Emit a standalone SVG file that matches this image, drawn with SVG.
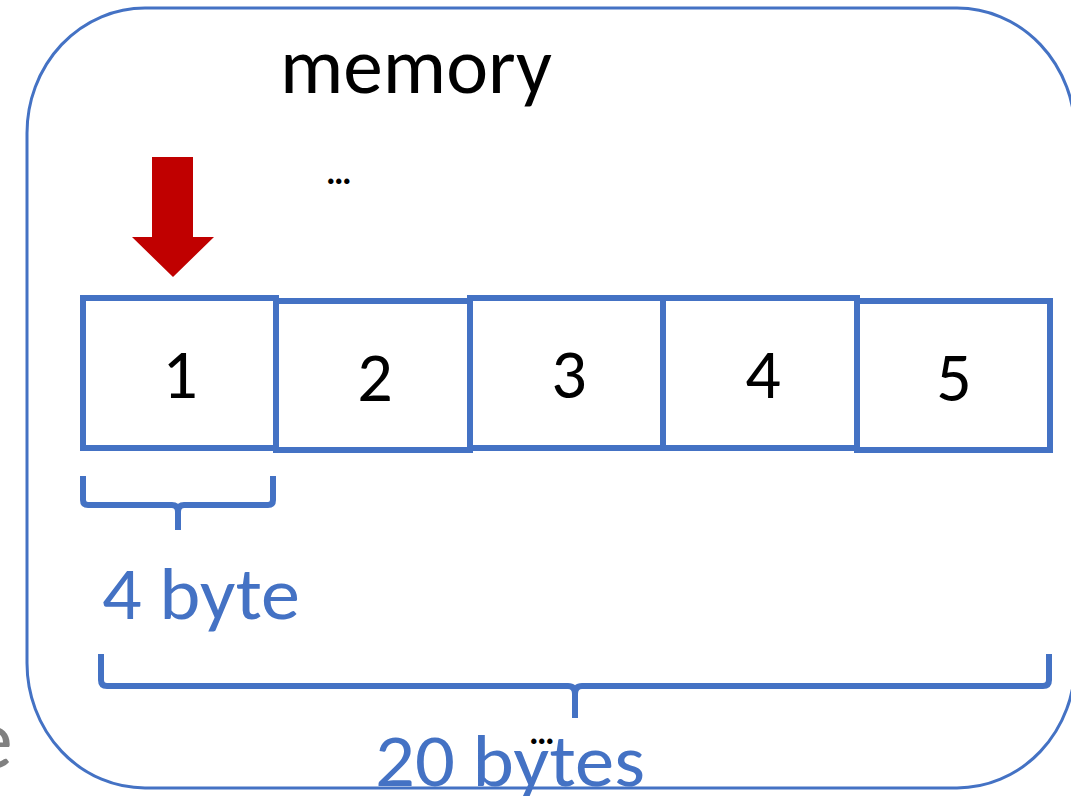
<svg xmlns="http://www.w3.org/2000/svg" width="1071" height="796" viewBox="0 0 1071 796">
  <style>
    .frame { fill: #ffffff; stroke: #4472C4; stroke-width: 3; }
    .cell { fill: #ffffff; stroke: #4472C4; stroke-width: 6; }
    .brace { fill: none; stroke: #4472C4; stroke-width: 6; stroke-linejoin: round; }
    .digit { font-family: Carlito, Calibri, Lato, sans-serif; font-size: 70px; fill: #000000; text-anchor: middle; }
    .label { font-family: Carlito, Calibri, Lato, sans-serif; font-size: 74px; fill: #4472C4; }
    .title { font-family: Carlito, Calibri, Lato, sans-serif; font-size: 80px; fill: #000000; }
    .dots { font-family: Carlito, Calibri, Lato, sans-serif; font-size: 36px; font-weight: bold; fill: #000000; }
  </style>
  <rect width="1071" height="796" fill="#ffffff"/>

  <!-- trailing letter of a neighbouring word, clipped at the left edge -->
  <text x="-30" y="768" font-family="Carlito, Calibri, Lato, sans-serif" font-size="86" fill="#808080">e</text>

  <g id="memory">
    <rect class="frame" x="27" y="8" width="1048" height="780" rx="118" ry="125"/>
    <text class="title" x="280" y="93" textLength="272" lengthAdjust="spacingAndGlyphs">memory</text>
    <text class="dots" x="326" y="184">…</text>
  </g>

  <g id="pointer">
    <polygon points="152,157 193,157 193,237 214,237 173,277 132,237 152,237" fill="#C00000"/>
  </g>

  <g id="cell-1">
    <rect class="cell" x="83" y="298" width="193" height="150"/>
    <text class="digit" x="180" y="398">1</text>
  </g>
  <g id="cell-2">
    <rect class="cell" x="276" y="301" width="194" height="149"/>
    <text class="digit" x="375" y="401">2</text>
  </g>
  <g id="cell-3">
    <rect class="cell" x="470" y="298" width="193" height="150"/>
    <text class="digit" x="569" y="398">3</text>
  </g>
  <g id="cell-4">
    <rect class="cell" x="663" y="298" width="194" height="150"/>
    <text class="digit" x="763" y="398">4</text>
  </g>
  <g id="cell-5">
    <rect class="cell" x="857" y="301" width="193" height="149"/>
    <text class="digit" x="954" y="401">5</text>
  </g>

  <g id="connectors">
    <!-- width of one element -->
    <path class="brace" d="M83,476 L83,500 Q83,505 88,505 L172,505 Q178,505 178,512 L178,530 M178,512 Q178,505 184,505 L268,505 Q273,505 273,500 L273,476"/>
    <!-- width of the whole array -->
    <path class="brace" d="M101,654 L101,680 Q101,686 107,686 L568,686 Q575,686 575,694 L575,718 M575,694 Q575,686 582,686 L1043,686 Q1049,686 1049,680 L1049,654"/>
  </g>

  <g id="size-labels">
    <text class="label" x="102" y="619" textLength="198" lengthAdjust="spacingAndGlyphs">4 byte</text>
    <text class="label" x="375" y="786" textLength="270" lengthAdjust="spacingAndGlyphs">20 bytes</text>
    <text class="dots" x="529" y="744">…</text>
  </g>
</svg>
